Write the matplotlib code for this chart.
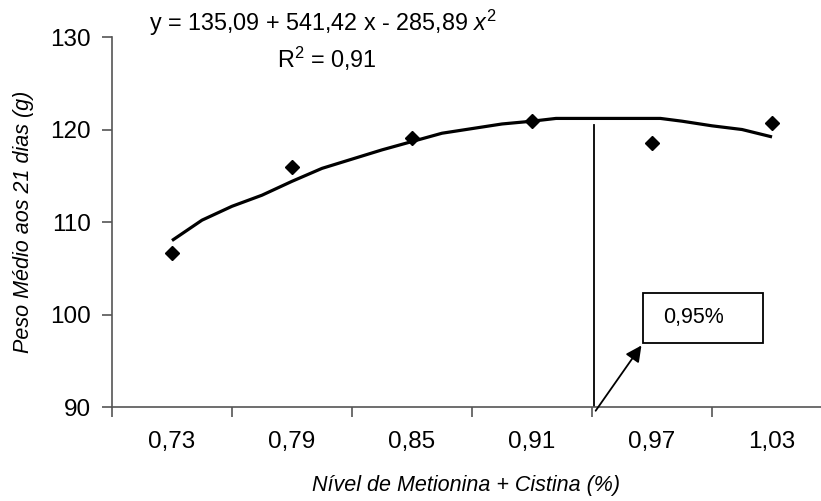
import matplotlib
matplotlib.use("Agg")
import matplotlib.pyplot as plt
from matplotlib.patches import Rectangle

plt.rcParams['font.family'] = ['Liberation Sans', 'DejaVu Sans']
plt.rcParams['mathtext.fontset'] = 'custom'
plt.rcParams['mathtext.rm'] = 'Liberation Sans'
plt.rcParams['mathtext.it'] = 'Liberation Sans:italic'

# data
levels = ['0,73', '0,79', '0,85', '0,91', '0,97', '1,03']
peso = [106.6, 115.9, 119.1, 120.9, 118.5, 120.7]

# fitted curve, read as points (category position, value)
curve_x = [0, 0.25, 0.5, 0.75, 1.0, 1.25, 1.5, 1.75, 2.0, 2.25, 2.5, 2.75,
           3.0, 3.2, 4.07, 4.25, 4.5, 4.75, 5.0]
curve_y = [108.0, 110.2, 111.7, 112.9, 114.4, 115.8, 116.8, 117.8, 118.7, 119.6,
           120.1, 120.6, 120.9, 121.2, 121.2, 120.9, 120.4, 120.0, 119.2]

optimo_x = 3.517
optimo_top = 120.5

fig = plt.figure(figsize=(8.21, 5.01), dpi=100)
ax = fig.add_axes([0.1364, 0.1876, 0.8636, 0.7385])

ax.plot(curve_x, curve_y, color='black', lw=2.3, solid_capstyle='butt')
ax.plot(range(len(peso)), peso, 'D', color='black', markersize=7.5)

ax.plot([optimo_x, optimo_x], [90, optimo_top], color='black', lw=1.3)

ax.set_yticks([90, 100, 110, 120, 130])
ax.set_xticks([i - 0.5 for i in range(len(levels) + 1)])
ax.set_xticklabels([])
ax.set_xticks(range(len(levels)), minor=True)
ax.set_xticklabels(levels, minor=True)
ax.set_xlim(-0.5, 5.408)
ax.set_ylim(90, 130)
ax.tick_params(axis='x', which='minor', length=0, pad=17, labelsize=17.5)
ax.tick_params(axis='x', which='major', length=7, width=1.2, color='#555555')
ax.tick_params(axis='y', length=7, width=1.2, color='#555555', labelsize=17.5, pad=8)

for s in ['top', 'right']:
    ax.spines[s].set_visible(False)
for s in ['left', 'bottom']:
    ax.spines[s].set_color('#555555')
    ax.spines[s].set_linewidth(1.2)

ax.set_xlabel('Nível de Metionina + Cistina (%)', style='italic', fontsize=15.5, labelpad=16)
ax.set_ylabel('Peso Médio aos 21 dias (g)', style='italic', fontsize=15.5, labelpad=12)

# annotation box with arrow
ax.add_patch(Rectangle((3.925, 96.9), 1.0, 5.4, facecolor='white', edgecolor='black',
                       lw=1.3, clip_on=False))
ax.text(4.09, 99.7, '0,95%', fontsize=15.5, va='center', ha='left')
ax.annotate('', xy=(3.925, 96.9), xytext=(optimo_x, 89.35),
            arrowprops=dict(arrowstyle='-|>', color='black', lw=1.3, mutation_scale=24),
            annotation_clip=False)

fig.text(149 / 821, 1 - 23 / 501, r'y = 135,09 + 541,42 x - 285,89 $x^2$',
         fontsize=16.8, va='center', ha='left')
fig.text(277 / 821, 1 - 59 / 501, r'R$^2$ = 0,91', fontsize=16.8, va='center', ha='left')

fig.savefig('out.png', dpi=100)
